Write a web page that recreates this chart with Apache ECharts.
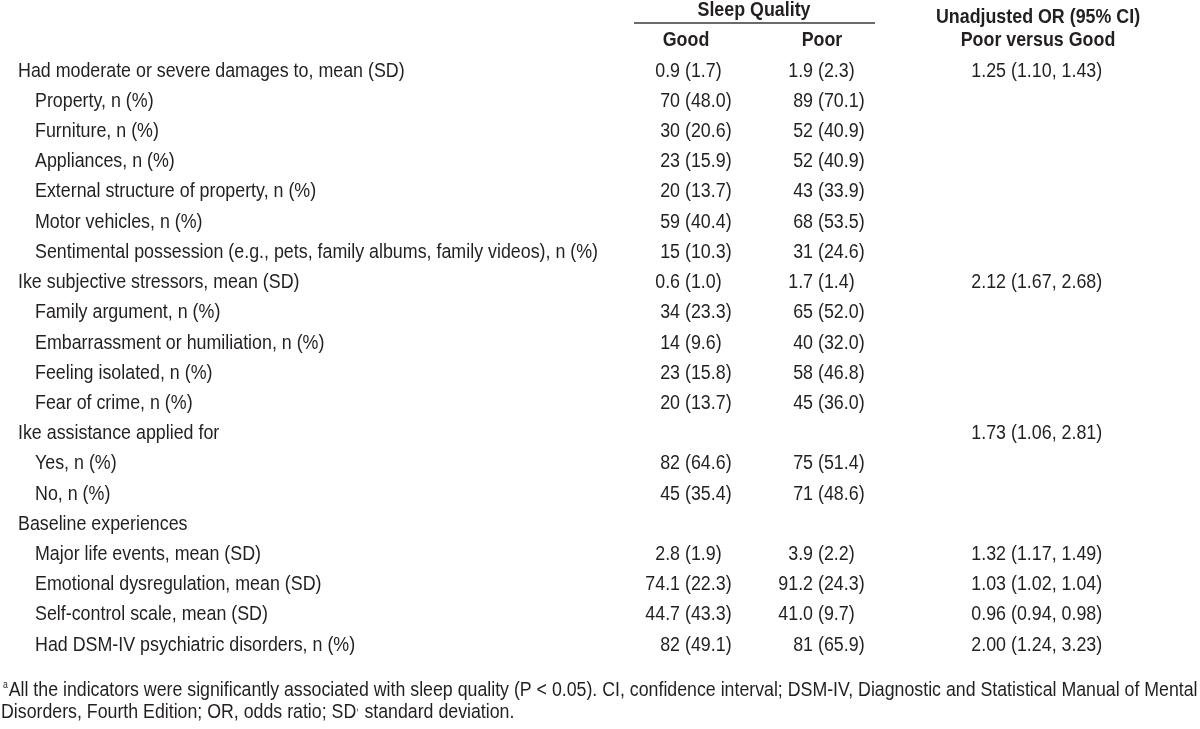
<!DOCTYPE html>
<html>
<head>
<meta charset="utf-8">
<style>
  html, body { margin: 0; padding: 0; background: #ffffff; }
  #chart { width: 1200px; height: 729px; }
</style>
<script src="https://cdn.jsdelivr.net/npm/echarts@6/dist/echarts.min.js"></script>
</head>
<body>
<div id="chart"></div>
<script>
// ---------------- DATA ----------------
const rowLabels = [
  'Had moderate or severe damages to, mean (SD)',
  'Property, n (%)',
  'Furniture, n (%)',
  'Appliances, n (%)',
  'External structure of property, n (%)',
  'Motor vehicles, n (%)',
  'Sentimental possession (e.g., pets, family albums, family videos), n (%)',
  'Ike subjective stressors, mean (SD)',
  'Family argument, n (%)',
  'Embarrassment or humiliation, n (%)',
  'Feeling isolated, n (%)',
  'Fear of crime, n (%)',
  'Ike assistance applied for',
  'Yes, n (%)',
  'No, n (%)',
  'Baseline experiences',
  'Major life events, mean (SD)',
  'Emotional dysregulation, mean (SD)',
  'Self-control scale, mean (SD)',
  'Had DSM-IV psychiatric disorders, n (%)'
];
const rowLevel = [0,1,1,1,1,1,1,0,1,1,1,1,0,1,1,0,1,1,1,1];
const goodValues = [
  '0.9 (1.7)','70 (48.0)','30 (20.6)','23 (15.9)','20 (13.7)','59 (40.4)','15 (10.3)',
  '0.6 (1.0)','34 (23.3)','14 (9.6)','23 (15.8)','20 (13.7)',
  '','82 (64.6)','45 (35.4)',
  '','2.8 (1.9)','74.1 (22.3)','44.7 (43.3)','82 (49.1)'
];
const poorValues = [
  '1.9 (2.3)','89 (70.1)','52 (40.9)','52 (40.9)','43 (33.9)','68 (53.5)','31 (24.6)',
  '1.7 (1.4)','65 (52.0)','40 (32.0)','58 (46.8)','45 (36.0)',
  '','75 (51.4)','71 (48.6)',
  '','3.9 (2.2)','91.2 (24.3)','41.0 (9.7)','81 (65.9)'
];
const orValues = [
  '1.25 (1.10, 1.43)','','','','','','',
  '2.12 (1.67, 2.68)','','','','',
  '1.73 (1.06, 2.81)','','',
  '','1.32 (1.17, 1.49)','1.03 (1.02, 1.04)','0.96 (0.94, 0.98)','2.00 (1.24, 3.23)'
];
const groupHeader = 'Sleep Quality';
const columnHeaders = ['Good', 'Poor'];
const orHeader = ['Unadjusted OR (95% CI)', 'Poor versus Good'];
const footnoteLines = [
  '{sup|a}All the indicators were significantly associated with sleep quality (P < 0.05). CI, confidence interval; DSM-IV, Diagnostic and Statistical Manual of Mental',
  'Disorders, Fourth Edition; OR, odds ratio; SD{sup|,} standard deviation.'
];

// ---------------- LAYOUT / STYLE ----------------
const FONT_FAMILY = "'Liberation Sans', Arial, sans-serif";
const FONT_SIZE = 20.5;
const SCALE_X = 0.87;
const FOOT_SCALE_X = 0.866;
const TEXT_COLOR = '#231f20';
const LABEL_X = [18, 35];
const GOOD_PAREN_X = 685;
const POOR_PAREN_X = 818;
const OR_PAREN_X = 1011;
const PAREN_GAP = 5;

const chart = echarts.init(document.getElementById('chart'), null, { renderer: 'canvas' });

function txt(str, x, y, align, weight, scaleX) {
  return {
    type: 'text',
    x: x, y: y, scaleX: scaleX || SCALE_X, scaleY: 1,
    style: {
      text: str, x: 0, y: 0,
      align: align, verticalAlign: 'middle',
      textAlign: align, textVerticalAlign: 'middle',
      font: (weight || 'normal') + ' ' + FONT_SIZE + 'px ' + FONT_FAMILY,
      fill: TEXT_COLOR
    }
  };
}

function valueCell(str, parenX, y, out) {
  if (!str) return;
  const k = str.indexOf(' (');
  out.push(txt(str.slice(0, k), parenX - PAREN_GAP, y, 'right'));
  out.push(txt(str.slice(k + 1), parenX, y, 'left'));
}

function renderItem(params, api) {
  const i = api.value(1);
  const y = api.coord([0, i])[1];
  const xAt = v => api.coord([v, i])[0];
  const children = [];
  children.push(txt(rowLabels[i], xAt(LABEL_X[rowLevel[i]]), y, 'left'));
  valueCell(goodValues[i], xAt(GOOD_PAREN_X), y, children);
  valueCell(poorValues[i], xAt(POOR_PAREN_X), y, children);
  valueCell(orValues[i], xAt(OR_PAREN_X), y, children);
  return { type: 'group', children: children };
}

function headerText(str, x, y) {
  return txt(str, x, y, 'center', 'bold');
}
function footText(str, x, y) {
  const t = txt(str, x, y, 'left', 'normal', FOOT_SCALE_X);
  t.style.rich = {
    sup: { fontSize: 10, fontFamily: FONT_FAMILY, fill: TEXT_COLOR, padding: [0, 1, 9, 0] }
  };
  return t;
}

const option = {
  animation: false,
  backgroundColor: '#ffffff',
  grid: { left: 0, right: 0, top: 71, bottom: 84 },
  xAxis: { type: 'value', min: 0, max: 1200, show: false },
  yAxis: {
    type: 'category', data: rowLabels, inverse: true, boundaryGap: false, show: false
  },
  series: [{
    type: 'custom',
    renderItem: renderItem,
    encode: { x: 0, y: 1 },
    data: rowLabels.map((_, i) => [0, i]),
    silent: true
  }],
  graphic: [
    headerText(groupHeader, 754, 10),
    { type: 'line', shape: { x1: 634, y1: 23, x2: 875, y2: 23 }, style: { stroke: '#3a3a3a', lineWidth: 1.3 } },
    headerText(columnHeaders[0], 686, 40),
    headerText(columnHeaders[1], 822, 40),
    headerText(orHeader[0], 1038, 17),
    headerText(orHeader[1], 1038, 40),
    footText(footnoteLines[0], 3, 690),
    footText(footnoteLines[1], 1, 712)
  ]
};
chart.setOption(option);
</script>
</body>
</html>
